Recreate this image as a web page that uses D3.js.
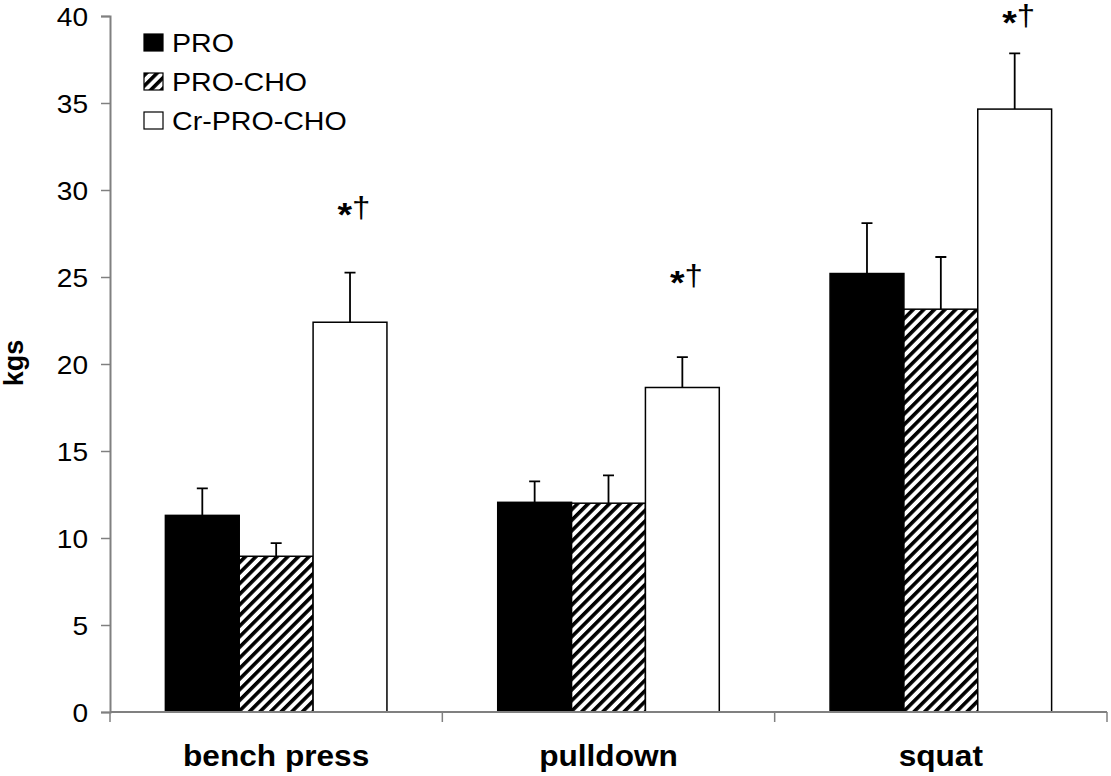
<!DOCTYPE html>
<html>
<head>
<meta charset="utf-8">
<script src="https://cdn.jsdelivr.net/npm/d3@7"></script>
<style>
  body { margin: 0; background: #fff; }
  text { font-family: Arial, "Liberation Sans", sans-serif; }
</style>
</head>
<body>
<script>
const categories = ["bench press", "pulldown", "squat"];
const series = ["PRO", "PRO-CHO", "Cr-PRO-CHO"];
const proValues = [11.3, 12.05, 25.2];
const proErrors = [1.55, 1.2, 2.9];
const proChoValues = [8.95, 12.0, 23.15];
const proChoErrors = [0.75, 1.6, 3.0];
const crValues = [22.4, 18.65, 34.65];
const crErrors = [2.85, 1.75, 3.2];
const markLevels = [28.4, 24.5, 39.45]; // where the *† sits above the Cr bars
const yTicks = [0, 5, 10, 15, 20, 25, 30, 35, 40];

const width = 1111;
const height = 776;
const plotLeft = 110, plotRight = 1107, plotTop = 16, plotBottom = 712;

const svg = d3.select("body").append("svg")
  .attr("width", width)
  .attr("height", height);

// the original text is a bit wider than Arial, stretch it a little
function widen(sel, k) {
  sel.each(function () {
    const w = this.getComputedTextLength();
    d3.select(this).attr("textLength", w * k).attr("lengthAdjust", "spacingAndGlyphs");
  });
}

const defs = svg.append("defs");
const hatch = defs.append("pattern")
  .attr("id", "hatch")
  .attr("patternUnits", "userSpaceOnUse")
  .attr("width", 7.5)
  .attr("height", 7.5)
  .attr("patternTransform", "rotate(45)");
hatch.append("rect").attr("width", 7.5).attr("height", 7.5).attr("fill", "#fff");
hatch.append("rect").attr("width", 3.6).attr("height", 7.5).attr("fill", "#000");

const fills = ["#000", "url(#hatch)", "#fff"];

const rows = categories.map((c, i) => ({
  category: c,
  bars: [
    { s: 0, v: proValues[i], e: proErrors[i] },
    { s: 1, v: proChoValues[i], e: proChoErrors[i] },
    { s: 2, v: crValues[i], e: crErrors[i] }
  ]
}));

const y = d3.scaleLinear().domain([0, 40]).range([plotBottom, plotTop]);
const x0 = d3.scaleBand().domain(categories).range([plotLeft, plotRight]).padding(0);
const bw = x0.bandwidth();
const gap = bw * 1.5 / 4.5;
const x1 = d3.scaleBand().domain([0, 1, 2]).range([gap / 2, bw - gap / 2]).padding(0);

// y axis
const yAxis = svg.append("g")
  .attr("transform", `translate(${plotLeft},0)`)
  .call(d3.axisLeft(y).tickValues(yTicks).tickSize(9).tickPadding(13));
yAxis.select(".domain").attr("stroke", "#808080").attr("stroke-width", 2);
yAxis.selectAll(".tick line").attr("stroke", "#808080").attr("stroke-width", 1.5);
yAxis.selectAll(".tick text")
  .attr("font-size", 26)
  .attr("fill", "#000")
  .attr("dy", "0.36em")
  .call(widen, 1.08);

svg.append("text")
  .attr("transform", `translate(23,363) rotate(-90)`)
  .attr("text-anchor", "middle")
  .attr("font-size", 27)
  .attr("font-weight", "bold")
  .text("kgs");

// bars
const groups = svg.selectAll("g.grp").data(rows).enter().append("g")
  .attr("class", "grp")
  .attr("transform", (d) => `translate(${x0(d.category)},0)`);

groups.selectAll("rect").data((d) => d.bars).enter().append("rect")
  .attr("x", (d) => x1(d.s))
  .attr("y", (d) => y(d.v))
  .attr("width", x1.bandwidth())
  .attr("height", (d) => y(0) - y(d.v))
  .attr("fill", (d) => fills[d.s])
  .attr("stroke", "#000")
  .attr("stroke-width", 1.5);

// error bars (upper only)
groups.selectAll("path.err").data((d) => d.bars).enter().append("path")
  .attr("class", "err")
  .attr("fill", "none")
  .attr("stroke", "#000")
  .attr("stroke-width", 1.8)
  .attr("d", (d) => {
    const cx = x1(d.s) + x1.bandwidth() / 2;
    const yt = y(d.v + d.e);
    return `M${cx},${y(d.v)}V${yt}M${cx - 5.5},${yt}H${cx + 5.5}`;
  });

// significance marks
categories.forEach((c, i) => {
  const cx = x0(c) + x1(2) + x1.bandwidth() / 2 + 4;
  const t = svg.append("text")
    .attr("x", cx)
    .attr("y", y(markLevels[i]))
    .attr("text-anchor", "middle")
    .attr("font-size", 30);
  t.append("tspan").attr("font-weight", "bold").attr("font-size", 34).attr("dy", 8).text("*");
  t.append("tspan").attr("dy", -8).text("\u2020");
  widen(t, 1.1);
});

// x axis
svg.append("line")
  .attr("x1", plotLeft).attr("x2", plotRight)
  .attr("y1", plotBottom).attr("y2", plotBottom)
  .attr("stroke", "#808080").attr("stroke-width", 2);
const edges = categories.map((c) => x0(c)).concat([plotRight]);
svg.selectAll("line.xt").data(edges).enter().append("line")
  .attr("class", "xt")
  .attr("x1", (d) => d).attr("x2", (d) => d)
  .attr("y1", plotBottom).attr("y2", plotBottom + 10)
  .attr("stroke", "#808080").attr("stroke-width", 1.5);
svg.selectAll("text.cat").data(categories).enter().append("text")
  .attr("class", "cat")
  .attr("x", (d) => x0(d) + bw / 2)
  .attr("y", 766)
  .attr("text-anchor", "middle")
  .attr("font-size", 29)
  .attr("font-weight", "bold")
  .text((d) => d)
  .call(widen, 1.09);

// legend
const legend = svg.append("g").attr("transform", "translate(144,34)");
const item = legend.selectAll("g").data(series).enter().append("g")
  .attr("transform", (d, i) => `translate(0,${i * 39})`);
item.append("rect")
  .attr("width", 19).attr("height", 17)
  .attr("fill", (d, i) => fills[i])
  .attr("stroke", "#000").attr("stroke-width", 1.2);
item.append("text")
  .attr("x", 28).attr("y", 17.5)
  .attr("font-size", 26)
  .text((d) => d)
  .call(widen, 1.1);
</script>
</body>
</html>
